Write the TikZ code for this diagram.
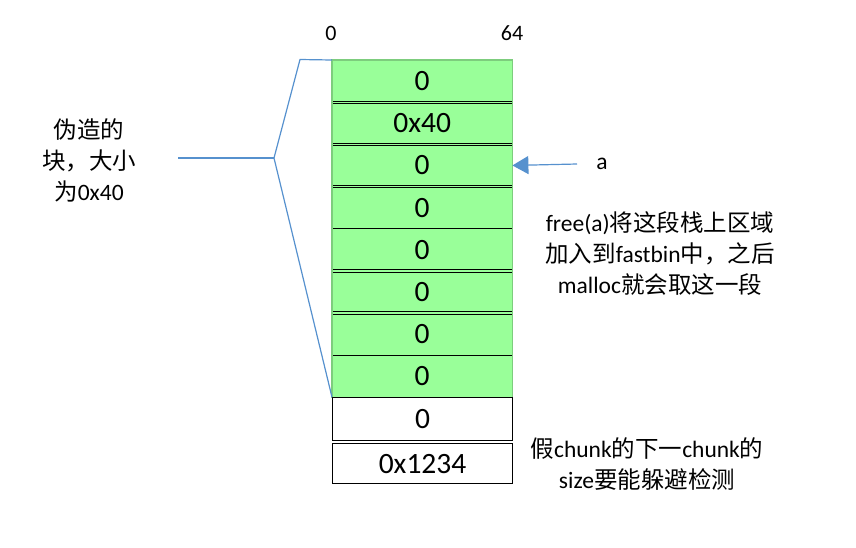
\documentclass[tikz,border=0pt]{standalone}
\usepackage{fontspec}
\setmainfont{Carlito}
\newfontfamily\cjk{Noto Sans CJK SC}
\usetikzlibrary{arrows.meta}
\definecolor{chunkgreen}{RGB}{153,255,153}
\definecolor{greenedge}{RGB}{125,205,125}
\definecolor{bracketblue}{RGB}{86,145,206}
\begin{document}
\begin{tikzpicture}[x=1pt,y=-1pt,
  cell/.style={minimum width=180pt, inner sep=0pt, anchor=north west,
    font=\fontsize{29.5}{31}\selectfont},
  greencell/.style={cell, fill=chunkgreen, minimum height=42.1pt},
  whitecell/.style={cell, draw=black, line width=1.1pt, fill=white},
  sepline/.style={draw=black, line width=0.9pt, double=chunkgreen, double distance=1.4pt},
  sepsingle/.style={draw=black, line width=1.1pt},
  note/.style={align=center, inner sep=0pt, font=\fontsize{23.5}{31}\selectfont},
  toplabel/.style={inner sep=0pt, font=\fontsize{22}{24}\selectfont},
  bluel/.style={draw=bracketblue, line width=1.2pt}
]
\useasboundingbox (0,0) rectangle (856,547);

% green rows
\node[greencell] (r1) at (332,60.0) {0};
\node[greencell] (r2) at (332,102.1) {0x40};
\node[greencell] (r3) at (332,144.2) {0};
\node[greencell] (r4) at (332,186.3) {0};
\node[greencell] (r5) at (332,228.4) {0};
\node[greencell] (r6) at (332,270.5) {0};
\node[greencell] (r7) at (332,312.6) {0};
\node[greencell] (r8) at (332,354.7) {0};
% separators
\draw[sepline] (r1.south west) -- (r1.south east);
\draw[sepline] (r2.south west) -- (r2.south east);
\draw[sepline] (r3.south west) -- (r3.south east);
\draw[sepsingle] (r4.south west) -- (r4.south east);
\draw[sepline] (r5.south west) -- (r5.south east);
\draw[sepline] (r6.south west) -- (r6.south east);
\draw[sepsingle] (r7.south west) -- (r7.south east);
\draw[draw=greenedge, line width=1.2pt] (r1.north west) rectangle (r8.south east);

% white rows
\node[whitecell, minimum height=42.5pt] (r9) at (332,397.3) {0};
\node[whitecell, minimum height=40pt] (r10) at (332,443) {0x1234};

% top labels
\node[toplabel] (z0) at (331,33) {0};
\node[toplabel] (z64) at (512,33) {64};

% left label and bracket
\node[note] (fake) at (89,160) {{\cjk 伪造的}\\{\cjk 块，大小}\\{\cjk 为}0x40};
\coordinate (bstart) at (178,158);
\coordinate (apex) at (274,158);
\coordinate (btop) at (300,59.5);
\draw[bluel] (bstart) -- (apex);
\draw[bluel] (r1.north west) -- (btop) -- (apex) -- (r8.south west);

% pointer a
\node[note] (a) at (602,164) {a};
\coordinate (astart) at (577,164);
\draw[bluel, -{Triangle[length=16pt,width=18pt]}] (astart) -- (r3.east);

% notes
\node[note] (freenote) at (660,254) {free(a){\cjk 将这段栈上区域}\\{\cjk 加入到}fastbin{\cjk 中，之后}\\malloc{\cjk 就会取这一段}};
\node[note] (sizenote) at (647,464) {{\cjk 假}chunk{\cjk 的下一}chunk{\cjk 的}\\size{\cjk 要能躲避检测}};
\end{tikzpicture}
\end{document}
